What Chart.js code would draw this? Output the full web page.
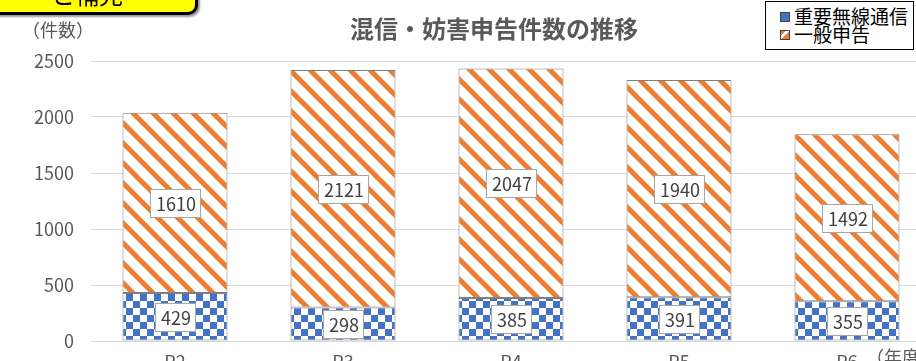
<!DOCTYPE html>
<html lang="ja">
<head>
<meta charset="utf-8">
<script src="https://cdn.jsdelivr.net/npm/chart.js@4.4.1/dist/chart.umd.min.js"></script>
<style>
html, body { margin:0; padding:0; background:#fff; }
#wrap { position:relative; width:916px; height:361px; overflow:hidden; font-family:"Noto Sans CJK JP", "Noto Sans", sans-serif; }
#c { position:absolute; left:0; top:0; }
.txt { position:absolute; white-space:nowrap; }
#tag { position:absolute; left:-4px; top:-29px; width:196px; height:38px; background:#ffff00; border:3px solid #000; border-radius:0 0 10px 0; box-shadow:2px 2px 2px #999; }
#tag span { position:absolute; left:52px; bottom:1px; font-size:24px; color:#000; }
#title { left:494px; top:13px; transform:translateX(-50%); font-size:24px; font-weight:bold; color:#595959; line-height:30px; }
#ytitle { left:22px; top:17px; font-size:18px; color:#595959; line-height:24px; }
#xtitle { left:866px; top:344px; font-size:18px; color:#595959; line-height:24px; }
#legend { position:absolute; left:765px; top:1px; width:147px; height:47px; border:1px solid #000; background:#fff; }
.row { position:absolute; left:14px; font-size:19px; line-height:19px; color:#000; }
.sw { display:inline-block; width:8px; height:8px; border:1px solid #444; margin-right:4px; vertical-align:2px; }
</style>
</head>
<body>
<div id="wrap">
  <canvas id="c" width="940" height="390"></canvas>
  <div id="tag"><span>と補完</span></div>
  <div class="txt" id="title">混信・妨害申告件数の推移</div>
  <div class="txt" id="ytitle">（件数）</div>
  <div class="txt" id="xtitle">（年度）</div>
  <div id="legend">
    <div class="row" style="top:4px"><span class="sw" style="background:#4472c4"></span>重要無線通信</div>
    <div class="row" style="top:22px"><span class="sw" id="sw2"></span>一般申告</div>
  </div>
</div>
<script>
var years = ['R2', 'R3', 'R4', 'R5', 'R6'];
var juyo = [429, 298, 385, 391, 355];
var ippan = [1610, 2121, 2047, 1940, 1492];
var yTicks = [0, 500, 1000, 1500, 2000, 2500];

var numFont = '"Noto Sans CJK JP", "Noto Sans", sans-serif';

function checker()
{
	var t = document.createElement('canvas');
	t.width = 14; t.height = 14;
	var g = t.getContext('2d');
	g.fillStyle = '#fff';
	g.fillRect(0, 0, 14, 14);
	g.fillStyle = '#4472c4';
	g.fillRect(0, 0, 7, 7);
	g.fillRect(7, 7, 7, 7);
	return t;
}

function stripes()
{
	var t = document.createElement('canvas');
	t.width = 20; t.height = 20;
	var g = t.getContext('2d');
	g.fillStyle = '#fff';
	g.fillRect(0, 0, 20, 20);
	g.strokeStyle = '#ed7d31';
	g.lineWidth = 5;
	for( var k=-1; k<=1; k++ )
	{
		g.beginPath();
		g.moveTo(k*20 - 5, -5);
		g.lineTo(k*20 + 25, 25);
		g.stroke();
	}
	return t;
}

var ctx = document.getElementById('c').getContext('2d');
var blueFill = ctx.createPattern(checker(), 'repeat');
var orangeFill = ctx.createPattern(stripes(), 'repeat');

document.getElementById('sw2').style.background = 'linear-gradient(135deg, #ed7d31 0 30%, #fff 30% 55%, #ed7d31 55% 100%)';

// labels in white boxes, centred in each segment
var boxLabels = {
	id: 'boxLabels',
	afterDatasetsDraw: function(chart){
		var c = chart.ctx;
		c.save();
		c.font = '18px ' + numFont;
		c.textAlign = 'center';
		c.textBaseline = 'middle';
		chart.data.datasets.forEach(function(ds, i){
			var meta = chart.getDatasetMeta(i);
			meta.data.forEach(function(el, j){
				var txt = String(ds.data[j]);
				var w = Math.round(c.measureText(txt).width + 10);
				var h = 28;
				var cy = Math.round((el.y + el.base) / 2);
				var cx = Math.round(el.x);
				var left = Math.round(cx - w/2);
				c.fillStyle = '#fff';
				c.fillRect(left, cy - h/2, w, h);
				c.strokeStyle = '#a6a6a6';
				c.lineWidth = 1;
				c.strokeRect(left + 0.5, cy - h/2 + 0.5, w, h);
				c.fillStyle = '#404040';
				c.fillText(txt, cx + 1, cy + 1);
			});
		});
		c.restore();
	}
};

new Chart(ctx, {
	type: 'bar',
	data: {
		labels: years,
		datasets: [
			{ label: '重要無線通信', data: juyo, backgroundColor: blueFill, borderColor: '#7f7f7f', borderWidth: 1, borderSkipped: false },
			{ label: '一般申告', data: ippan, backgroundColor: orangeFill, borderColor: '#7f7f7f', borderWidth: 1, borderSkipped: false }
		]
	},
	options: {
		responsive: false,
		animation: false,
		layout: { padding: { top: 61, right: 9, bottom: 9, left: 0 } },
		datasets: { bar: { categoryPercentage: 1, barPercentage: 0.625 } },
		plugins: { legend: { display: false }, title: { display: false }, tooltip: { enabled: false } },
		scales: {
			x: {
				stacked: true,
				grid: { display: false },
				border: { display: false },
				ticks: { padding: 2, color: '#595959', font: { size: 18, family: numFont } },
				afterFit: function(s){ s.height = 40; }
			},
			y: {
				stacked: true,
				min: 0,
				max: 2500,
				afterBuildTicks: function(s){ s.ticks = yTicks.map(function(v){ return { value: v }; }); },
				ticks: {
					padding: 17, color: '#595959', font: { size: 18, family: numFont },
					callback: function(v){ return String(v); }
				},
				grid: { color: '#d9d9d9', drawTicks: false },
				border: { display: false },
				afterFit: function(s){ s.width = 91; }
			}
		}
	},
	plugins: [boxLabels]
});
</script>
</body>
</html>
